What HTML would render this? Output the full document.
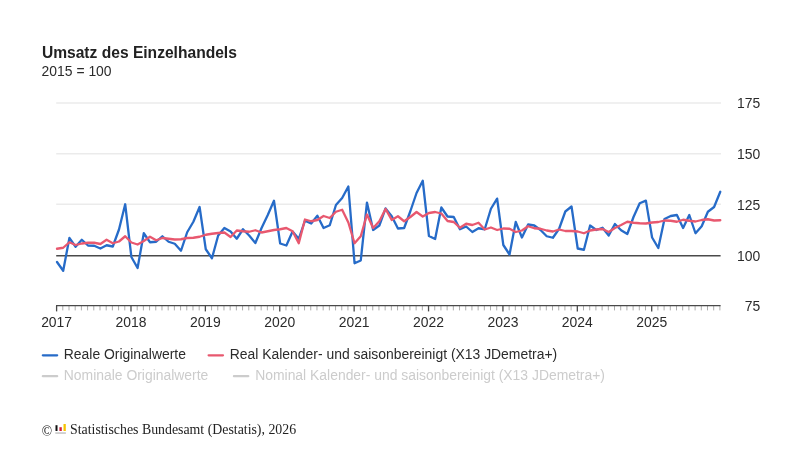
<!DOCTYPE html>
<html lang="de"><head><meta charset="utf-8"><title>Umsatz des Einzelhandels</title>
<style>
html,body{margin:0;padding:0;background:#fff;}
body{width:800px;height:449px;overflow:hidden;font-family:"Liberation Sans",Arial,sans-serif;}
svg{display:block}
.t{font-family:"Liberation Sans",Arial,sans-serif;font-size:13.91px;fill:#2b2b2b}
.ttl{font-family:"Liberation Sans",Arial,sans-serif;font-size:15.6px;font-weight:bold;fill:#222}
.off{fill:#cccccc}
.src{font-family:"Liberation Serif","Times New Roman",serif;font-size:13.85px;fill:#222}
</style></head><body>
<svg width="800" height="449" viewBox="0 0 800 449">
<rect width="800" height="449" fill="#ffffff"/>
<text class="ttl" x="41.9" y="57.5">Umsatz des Einzelhandels</text>
<text class="t" x="41.6" y="76.1">2015 = 100</text>

<line x1="56.2" x2="721" y1="103.0" y2="103.0" stroke="#ebebeb" stroke-width="1.6"/>
<line x1="56.2" x2="721" y1="153.8" y2="153.8" stroke="#ebebeb" stroke-width="1.6"/>
<line x1="56.2" x2="721" y1="204.3" y2="204.3" stroke="#ebebeb" stroke-width="1.6"/>
<text class="t" text-anchor="end" x="760.3" y="108.4">175</text>
<text class="t" text-anchor="end" x="760.3" y="159.3">150</text>
<text class="t" text-anchor="end" x="760.3" y="209.6">125</text>
<text class="t" text-anchor="end" x="760.3" y="260.5">100</text>
<text class="t" text-anchor="end" x="760.3" y="310.7">75</text>
<line x1="62.80" x2="62.80" y1="305.6" y2="310.40000000000003" stroke="#adadad" stroke-width="1"/>
<line x1="69.00" x2="69.00" y1="305.6" y2="310.40000000000003" stroke="#adadad" stroke-width="1"/>
<line x1="75.20" x2="75.20" y1="305.6" y2="310.40000000000003" stroke="#adadad" stroke-width="1"/>
<line x1="81.40" x2="81.40" y1="305.6" y2="310.40000000000003" stroke="#adadad" stroke-width="1"/>
<line x1="87.59" x2="87.59" y1="305.6" y2="310.40000000000003" stroke="#adadad" stroke-width="1"/>
<line x1="93.79" x2="93.79" y1="305.6" y2="310.40000000000003" stroke="#adadad" stroke-width="1"/>
<line x1="99.99" x2="99.99" y1="305.6" y2="310.40000000000003" stroke="#adadad" stroke-width="1"/>
<line x1="106.19" x2="106.19" y1="305.6" y2="310.40000000000003" stroke="#adadad" stroke-width="1"/>
<line x1="112.39" x2="112.39" y1="305.6" y2="310.40000000000003" stroke="#adadad" stroke-width="1"/>
<line x1="118.59" x2="118.59" y1="305.6" y2="310.40000000000003" stroke="#adadad" stroke-width="1"/>
<line x1="124.79" x2="124.79" y1="305.6" y2="310.40000000000003" stroke="#adadad" stroke-width="1"/>
<line x1="137.19" x2="137.19" y1="305.6" y2="310.40000000000003" stroke="#adadad" stroke-width="1"/>
<line x1="143.39" x2="143.39" y1="305.6" y2="310.40000000000003" stroke="#adadad" stroke-width="1"/>
<line x1="149.59" x2="149.59" y1="305.6" y2="310.40000000000003" stroke="#adadad" stroke-width="1"/>
<line x1="155.78" x2="155.78" y1="305.6" y2="310.40000000000003" stroke="#adadad" stroke-width="1"/>
<line x1="161.98" x2="161.98" y1="305.6" y2="310.40000000000003" stroke="#adadad" stroke-width="1"/>
<line x1="168.18" x2="168.18" y1="305.6" y2="310.40000000000003" stroke="#adadad" stroke-width="1"/>
<line x1="174.38" x2="174.38" y1="305.6" y2="310.40000000000003" stroke="#adadad" stroke-width="1"/>
<line x1="180.58" x2="180.58" y1="305.6" y2="310.40000000000003" stroke="#adadad" stroke-width="1"/>
<line x1="186.78" x2="186.78" y1="305.6" y2="310.40000000000003" stroke="#adadad" stroke-width="1"/>
<line x1="192.98" x2="192.98" y1="305.6" y2="310.40000000000003" stroke="#adadad" stroke-width="1"/>
<line x1="199.18" x2="199.18" y1="305.6" y2="310.40000000000003" stroke="#adadad" stroke-width="1"/>
<line x1="211.57" x2="211.57" y1="305.6" y2="310.40000000000003" stroke="#adadad" stroke-width="1"/>
<line x1="217.77" x2="217.77" y1="305.6" y2="310.40000000000003" stroke="#adadad" stroke-width="1"/>
<line x1="223.97" x2="223.97" y1="305.6" y2="310.40000000000003" stroke="#adadad" stroke-width="1"/>
<line x1="230.17" x2="230.17" y1="305.6" y2="310.40000000000003" stroke="#adadad" stroke-width="1"/>
<line x1="236.37" x2="236.37" y1="305.6" y2="310.40000000000003" stroke="#adadad" stroke-width="1"/>
<line x1="242.57" x2="242.57" y1="305.6" y2="310.40000000000003" stroke="#adadad" stroke-width="1"/>
<line x1="248.77" x2="248.77" y1="305.6" y2="310.40000000000003" stroke="#adadad" stroke-width="1"/>
<line x1="254.97" x2="254.97" y1="305.6" y2="310.40000000000003" stroke="#adadad" stroke-width="1"/>
<line x1="261.17" x2="261.17" y1="305.6" y2="310.40000000000003" stroke="#adadad" stroke-width="1"/>
<line x1="267.37" x2="267.37" y1="305.6" y2="310.40000000000003" stroke="#adadad" stroke-width="1"/>
<line x1="273.56" x2="273.56" y1="305.6" y2="310.40000000000003" stroke="#adadad" stroke-width="1"/>
<line x1="285.96" x2="285.96" y1="305.6" y2="310.40000000000003" stroke="#adadad" stroke-width="1"/>
<line x1="292.16" x2="292.16" y1="305.6" y2="310.40000000000003" stroke="#adadad" stroke-width="1"/>
<line x1="298.36" x2="298.36" y1="305.6" y2="310.40000000000003" stroke="#adadad" stroke-width="1"/>
<line x1="304.56" x2="304.56" y1="305.6" y2="310.40000000000003" stroke="#adadad" stroke-width="1"/>
<line x1="310.76" x2="310.76" y1="305.6" y2="310.40000000000003" stroke="#adadad" stroke-width="1"/>
<line x1="316.96" x2="316.96" y1="305.6" y2="310.40000000000003" stroke="#adadad" stroke-width="1"/>
<line x1="323.16" x2="323.16" y1="305.6" y2="310.40000000000003" stroke="#adadad" stroke-width="1"/>
<line x1="329.36" x2="329.36" y1="305.6" y2="310.40000000000003" stroke="#adadad" stroke-width="1"/>
<line x1="335.56" x2="335.56" y1="305.6" y2="310.40000000000003" stroke="#adadad" stroke-width="1"/>
<line x1="341.75" x2="341.75" y1="305.6" y2="310.40000000000003" stroke="#adadad" stroke-width="1"/>
<line x1="347.95" x2="347.95" y1="305.6" y2="310.40000000000003" stroke="#adadad" stroke-width="1"/>
<line x1="360.35" x2="360.35" y1="305.6" y2="310.40000000000003" stroke="#adadad" stroke-width="1"/>
<line x1="366.55" x2="366.55" y1="305.6" y2="310.40000000000003" stroke="#adadad" stroke-width="1"/>
<line x1="372.75" x2="372.75" y1="305.6" y2="310.40000000000003" stroke="#adadad" stroke-width="1"/>
<line x1="378.95" x2="378.95" y1="305.6" y2="310.40000000000003" stroke="#adadad" stroke-width="1"/>
<line x1="385.15" x2="385.15" y1="305.6" y2="310.40000000000003" stroke="#adadad" stroke-width="1"/>
<line x1="391.35" x2="391.35" y1="305.6" y2="310.40000000000003" stroke="#adadad" stroke-width="1"/>
<line x1="397.55" x2="397.55" y1="305.6" y2="310.40000000000003" stroke="#adadad" stroke-width="1"/>
<line x1="403.74" x2="403.74" y1="305.6" y2="310.40000000000003" stroke="#adadad" stroke-width="1"/>
<line x1="409.94" x2="409.94" y1="305.6" y2="310.40000000000003" stroke="#adadad" stroke-width="1"/>
<line x1="416.14" x2="416.14" y1="305.6" y2="310.40000000000003" stroke="#adadad" stroke-width="1"/>
<line x1="422.34" x2="422.34" y1="305.6" y2="310.40000000000003" stroke="#adadad" stroke-width="1"/>
<line x1="434.74" x2="434.74" y1="305.6" y2="310.40000000000003" stroke="#adadad" stroke-width="1"/>
<line x1="440.94" x2="440.94" y1="305.6" y2="310.40000000000003" stroke="#adadad" stroke-width="1"/>
<line x1="447.14" x2="447.14" y1="305.6" y2="310.40000000000003" stroke="#adadad" stroke-width="1"/>
<line x1="453.34" x2="453.34" y1="305.6" y2="310.40000000000003" stroke="#adadad" stroke-width="1"/>
<line x1="459.54" x2="459.54" y1="305.6" y2="310.40000000000003" stroke="#adadad" stroke-width="1"/>
<line x1="465.73" x2="465.73" y1="305.6" y2="310.40000000000003" stroke="#adadad" stroke-width="1"/>
<line x1="471.93" x2="471.93" y1="305.6" y2="310.40000000000003" stroke="#adadad" stroke-width="1"/>
<line x1="478.13" x2="478.13" y1="305.6" y2="310.40000000000003" stroke="#adadad" stroke-width="1"/>
<line x1="484.33" x2="484.33" y1="305.6" y2="310.40000000000003" stroke="#adadad" stroke-width="1"/>
<line x1="490.53" x2="490.53" y1="305.6" y2="310.40000000000003" stroke="#adadad" stroke-width="1"/>
<line x1="496.73" x2="496.73" y1="305.6" y2="310.40000000000003" stroke="#adadad" stroke-width="1"/>
<line x1="509.13" x2="509.13" y1="305.6" y2="310.40000000000003" stroke="#adadad" stroke-width="1"/>
<line x1="515.33" x2="515.33" y1="305.6" y2="310.40000000000003" stroke="#adadad" stroke-width="1"/>
<line x1="521.52" x2="521.52" y1="305.6" y2="310.40000000000003" stroke="#adadad" stroke-width="1"/>
<line x1="527.72" x2="527.72" y1="305.6" y2="310.40000000000003" stroke="#adadad" stroke-width="1"/>
<line x1="533.92" x2="533.92" y1="305.6" y2="310.40000000000003" stroke="#adadad" stroke-width="1"/>
<line x1="540.12" x2="540.12" y1="305.6" y2="310.40000000000003" stroke="#adadad" stroke-width="1"/>
<line x1="546.32" x2="546.32" y1="305.6" y2="310.40000000000003" stroke="#adadad" stroke-width="1"/>
<line x1="552.52" x2="552.52" y1="305.6" y2="310.40000000000003" stroke="#adadad" stroke-width="1"/>
<line x1="558.72" x2="558.72" y1="305.6" y2="310.40000000000003" stroke="#adadad" stroke-width="1"/>
<line x1="564.92" x2="564.92" y1="305.6" y2="310.40000000000003" stroke="#adadad" stroke-width="1"/>
<line x1="571.12" x2="571.12" y1="305.6" y2="310.40000000000003" stroke="#adadad" stroke-width="1"/>
<line x1="583.51" x2="583.51" y1="305.6" y2="310.40000000000003" stroke="#adadad" stroke-width="1"/>
<line x1="589.71" x2="589.71" y1="305.6" y2="310.40000000000003" stroke="#adadad" stroke-width="1"/>
<line x1="595.91" x2="595.91" y1="305.6" y2="310.40000000000003" stroke="#adadad" stroke-width="1"/>
<line x1="602.11" x2="602.11" y1="305.6" y2="310.40000000000003" stroke="#adadad" stroke-width="1"/>
<line x1="608.31" x2="608.31" y1="305.6" y2="310.40000000000003" stroke="#adadad" stroke-width="1"/>
<line x1="614.51" x2="614.51" y1="305.6" y2="310.40000000000003" stroke="#adadad" stroke-width="1"/>
<line x1="620.71" x2="620.71" y1="305.6" y2="310.40000000000003" stroke="#adadad" stroke-width="1"/>
<line x1="626.91" x2="626.91" y1="305.6" y2="310.40000000000003" stroke="#adadad" stroke-width="1"/>
<line x1="633.11" x2="633.11" y1="305.6" y2="310.40000000000003" stroke="#adadad" stroke-width="1"/>
<line x1="639.31" x2="639.31" y1="305.6" y2="310.40000000000003" stroke="#adadad" stroke-width="1"/>
<line x1="645.50" x2="645.50" y1="305.6" y2="310.40000000000003" stroke="#adadad" stroke-width="1"/>
<line x1="657.90" x2="657.90" y1="305.6" y2="310.40000000000003" stroke="#adadad" stroke-width="1"/>
<line x1="664.10" x2="664.10" y1="305.6" y2="310.40000000000003" stroke="#adadad" stroke-width="1"/>
<line x1="670.30" x2="670.30" y1="305.6" y2="310.40000000000003" stroke="#adadad" stroke-width="1"/>
<line x1="676.50" x2="676.50" y1="305.6" y2="310.40000000000003" stroke="#adadad" stroke-width="1"/>
<line x1="682.70" x2="682.70" y1="305.6" y2="310.40000000000003" stroke="#adadad" stroke-width="1"/>
<line x1="688.90" x2="688.90" y1="305.6" y2="310.40000000000003" stroke="#adadad" stroke-width="1"/>
<line x1="695.10" x2="695.10" y1="305.6" y2="310.40000000000003" stroke="#adadad" stroke-width="1"/>
<line x1="701.30" x2="701.30" y1="305.6" y2="310.40000000000003" stroke="#adadad" stroke-width="1"/>
<line x1="707.50" x2="707.50" y1="305.6" y2="310.40000000000003" stroke="#adadad" stroke-width="1"/>
<line x1="713.69" x2="713.69" y1="305.6" y2="310.40000000000003" stroke="#adadad" stroke-width="1"/>
<line x1="719.89" x2="719.89" y1="305.6" y2="310.40000000000003" stroke="#adadad" stroke-width="1"/>
<line x1="56" x2="720.6" y1="305.6" y2="305.6" stroke="#4a4a4a" stroke-width="1.2"/>
<line x1="56.60" x2="56.60" y1="305.6" y2="311.40000000000003" stroke="#4a4a4a" stroke-width="1.3"/>
<text class="t" text-anchor="middle" x="56.60" y="327.2">2017</text>
<line x1="130.99" x2="130.99" y1="305.6" y2="311.40000000000003" stroke="#4a4a4a" stroke-width="1.3"/>
<text class="t" text-anchor="middle" x="130.99" y="327.2">2018</text>
<line x1="205.38" x2="205.38" y1="305.6" y2="311.40000000000003" stroke="#4a4a4a" stroke-width="1.3"/>
<text class="t" text-anchor="middle" x="205.38" y="327.2">2019</text>
<line x1="279.76" x2="279.76" y1="305.6" y2="311.40000000000003" stroke="#4a4a4a" stroke-width="1.3"/>
<text class="t" text-anchor="middle" x="279.76" y="327.2">2020</text>
<line x1="354.15" x2="354.15" y1="305.6" y2="311.40000000000003" stroke="#4a4a4a" stroke-width="1.3"/>
<text class="t" text-anchor="middle" x="354.15" y="327.2">2021</text>
<line x1="428.54" x2="428.54" y1="305.6" y2="311.40000000000003" stroke="#4a4a4a" stroke-width="1.3"/>
<text class="t" text-anchor="middle" x="428.54" y="327.2">2022</text>
<line x1="502.93" x2="502.93" y1="305.6" y2="311.40000000000003" stroke="#4a4a4a" stroke-width="1.3"/>
<text class="t" text-anchor="middle" x="502.93" y="327.2">2023</text>
<line x1="577.32" x2="577.32" y1="305.6" y2="311.40000000000003" stroke="#4a4a4a" stroke-width="1.3"/>
<text class="t" text-anchor="middle" x="577.32" y="327.2">2024</text>
<line x1="651.70" x2="651.70" y1="305.6" y2="311.40000000000003" stroke="#4a4a4a" stroke-width="1.3"/>
<text class="t" text-anchor="middle" x="651.70" y="327.2">2025</text>
<line x1="56.2" x2="720.6" y1="255.8" y2="255.8" stroke="#4a4a4a" stroke-width="1.5"/>
<polyline fill="none" stroke="#266bc8" stroke-width="2.3" stroke-linejoin="round" stroke-linecap="round" points="57.00,262.00 63.20,270.75 69.40,238.00 75.60,246.75 81.80,239.75 88.00,245.50 94.19,245.75 100.39,248.50 106.59,245.25 112.79,246.50 118.99,229.50 125.19,204.25 131.39,257.00 137.59,268.00 143.79,233.25 149.99,242.25 156.18,241.75 162.38,236.25 168.58,241.75 174.78,243.75 180.98,250.75 187.18,232.25 193.38,221.75 199.58,207.00 205.78,249.25 211.97,258.25 218.17,235.50 224.37,228.00 230.57,231.50 236.77,238.75 242.97,229.25 249.17,235.50 255.37,243.00 261.57,228.00 267.77,215.00 273.97,200.75 280.16,243.50 286.36,245.50 292.56,231.50 298.76,238.75 304.96,220.75 311.16,223.50 317.36,215.75 323.56,228.00 329.76,225.25 335.95,205.00 342.15,198.00 348.35,186.50 354.55,263.25 360.75,260.50 366.95,202.60 373.15,230.00 379.35,225.50 385.55,208.40 391.75,216.25 397.94,228.50 404.14,228.00 410.34,211.25 416.54,193.00 422.74,180.75 428.94,236.00 435.14,239.00 441.34,207.50 447.54,216.50 453.74,217.00 459.94,229.25 466.13,226.50 472.33,232.00 478.53,228.25 484.73,229.25 490.93,208.75 497.13,198.60 503.33,245.00 509.53,254.50 515.73,222.00 521.92,237.50 528.12,224.50 534.32,225.50 540.52,230.00 546.72,236.25 552.92,237.75 559.12,228.75 565.32,211.50 571.52,206.50 577.72,248.50 583.91,249.75 590.11,225.50 596.31,230.00 602.51,227.75 608.71,235.50 614.91,224.00 621.11,230.25 627.31,234.00 633.51,217.00 639.71,203.20 645.90,200.60 652.10,237.50 658.30,248.00 664.50,219.00 670.70,216.00 676.90,215.00 683.10,228.00 689.30,215.00 695.50,233.25 701.70,226.25 707.89,211.75 714.09,207.00 720.29,191.75"/>
<polyline fill="none" stroke="#e8586f" stroke-width="2.3" stroke-linejoin="round" stroke-linecap="round" points="57.00,248.75 63.20,247.75 69.40,242.25 75.60,245.00 81.80,243.50 88.00,242.75 94.19,242.75 100.39,244.00 106.59,239.75 112.79,243.25 118.99,241.50 125.19,236.25 131.39,242.50 137.59,244.50 143.79,241.00 149.99,236.75 156.18,240.25 162.38,238.00 168.58,238.75 174.78,239.50 180.98,239.25 187.18,238.00 193.38,237.75 199.58,236.75 205.78,234.75 211.97,233.75 218.17,233.00 224.37,232.50 230.57,237.00 236.77,230.50 242.97,231.25 249.17,231.75 255.37,230.25 261.57,232.50 267.77,231.25 273.97,230.00 280.16,229.25 286.36,228.00 292.56,231.25 298.76,243.25 304.96,219.50 311.16,221.25 317.36,220.00 323.56,216.00 329.76,218.00 335.95,211.75 342.15,209.75 348.35,222.50 354.55,243.25 360.75,236.25 366.95,214.50 373.15,228.00 379.35,221.25 385.55,208.90 391.75,220.00 397.94,216.25 404.14,221.25 410.34,217.00 416.54,212.00 422.74,216.50 428.94,213.00 435.14,212.00 441.34,213.50 447.54,221.00 453.74,222.00 459.94,227.75 466.13,223.75 472.33,225.00 478.53,222.75 484.73,229.50 490.93,227.50 497.13,230.00 503.33,228.50 509.53,228.75 515.73,232.00 521.92,230.50 528.12,226.25 534.32,228.25 540.52,228.75 546.72,230.50 552.92,231.50 559.12,229.50 565.32,231.00 571.52,231.00 577.72,231.50 583.91,233.25 590.11,230.50 596.31,229.50 602.51,229.00 608.71,232.00 614.91,228.00 621.11,225.00 627.31,221.75 633.51,222.75 639.71,223.25 645.90,223.50 652.10,222.50 658.30,222.00 664.50,220.50 670.70,220.75 676.90,221.75 683.10,219.75 689.30,220.75 695.50,221.50 701.70,220.00 707.89,219.25 714.09,220.50 720.29,220.25"/>
<line x1="42.8" x2="57.2" y1="355.3" y2="355.3" stroke="#266bc8" stroke-width="2.2" stroke-linecap="round"/>
<text class="t" x="63.8" y="359.3">Reale Originalwerte</text>
<line x1="208.6" x2="223" y1="355.3" y2="355.3" stroke="#e8586f" stroke-width="2.2" stroke-linecap="round"/>
<text class="t" x="229.8" y="359.3">Real Kalender- und saisonbereinigt (X13 JDemetra+)</text>
<line x1="42.8" x2="57.2" y1="376.2" y2="376.2" stroke="#cccccc" stroke-width="2.2" stroke-linecap="round"/>
<text class="t off" x="63.8" y="380">Nominale Originalwerte</text>
<line x1="233.9" x2="248.3" y1="376.2" y2="376.2" stroke="#cccccc" stroke-width="2.2" stroke-linecap="round"/>
<text class="t off" x="255.2" y="380">Nominal Kalender- und saisonbereinigt (X13 JDemetra+)</text>
<text class="src" x="41.7" y="435.5" style="font-size:13.6px">©</text>
<rect x="55.5" y="425.2" width="2" height="5.8" fill="#111"/>
<rect x="59.4" y="427.2" width="2.4" height="3.8" fill="#d6213a"/>
<rect x="63.5" y="424" width="2.3" height="7" fill="#f5c400"/>
<rect x="55.3" y="432.3" width="10.6" height="1.5" fill="#c4c4c4"/>
<text class="src" x="70" y="433.5">Statistisches Bundesamt (Destatis), 2026</text>
</svg></body></html>
